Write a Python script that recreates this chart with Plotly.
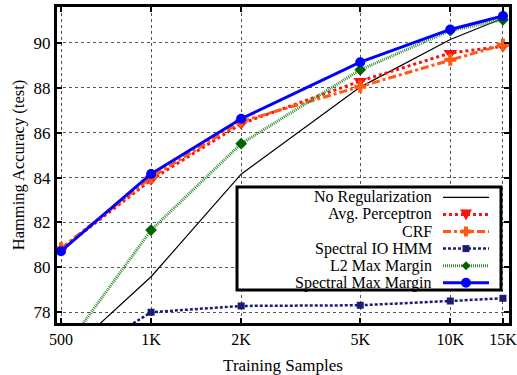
import plotly.graph_objects as go

samples = [500, 1000, 2000, 5000, 10000, 15000]
tick_labels = ["500", "1K", "2K", "5K", "10K", "15K"]
no_reg = [75.9, 79.58, 84.15, 88.03, 90.15, 91.1]
avg_perc = [80.8, 83.9, 86.4, 88.3, 89.55, 89.85]
crf = [80.85, 84.0, 86.5, 88.05, 89.25, 89.92]
io_hmm = [75.5, 78.0, 78.28, 78.31, 78.5, 78.62]
l2_mm = [76.15, 81.66, 85.51, 88.8, 90.55, 91.03]
spec_mm = [80.72, 84.16, 86.62, 89.14, 90.6, 91.2]

names = ["No Regularization", "Avg. Perceptron", "CRF", "Spectral IO HMM",
         "L2 Max Margin", "Spectral Max Margin"]
series = [no_reg, avg_perc, crf, io_hmm, l2_mm, spec_mm]
colors = ["#000000", "#ff1010", "#ff5a14", "#1c1c74", "#2f8f2f", "#0000ff"]
mcolors = ["#000000", "#ff1010", "#ff5a14", "#1c1c74", "#006400", "#0000ff"]
widths = [1.2, 3, 3, 2.5, 3, 3]
dashes = ["solid", "3px,3px", "8px,3px,3px,3px", "3px,2px", "1px,1px", "solid"]
symbols = [None, "triangle-down", "cross", "square", "diamond", "circle"]
msizes = [0, 12, 10, 7, 9, 10]

FONT = "Liberation Serif"
fig = go.Figure()
for n, s, c, mc, w, d, sym, ms in zip(names, series, colors, mcolors, widths, dashes, symbols, msizes):
    fig.add_trace(go.Scatter(
        x=samples, y=s, name=n, mode="lines" if sym is None else "lines+markers",
        line=dict(color=c, width=w, dash=d),
        marker=dict(symbol=sym or "circle", size=ms, color=mc, line=dict(width=0)),
        showlegend=False, cliponaxis=True))

# plot area geometry in px for the custom legend
L, R, T, B = 57, 509, 7, 323
PW, PH = R - L, B - T
def px(x): return (x - L) / PW
def py(y): return (B - y) / PH

shapes = []
# legend box
shapes.append(dict(type="rect", xref="paper", yref="paper", layer="above",
                   x0=px(237), x1=px(501), y0=py(290), y1=py(187),
                   line=dict(color="black", width=3), fillcolor="white"))
annotations = []
rows = [197.3, 214.4, 231.5, 248.6, 265.7, 282.8]
lx0, lx1, lxm = 443, 489, 466
for i, yrow in enumerate(rows):
    annotations.append(dict(xref="paper", yref="paper", x=px(433), y=py(yrow),
                            xanchor="right", yanchor="middle", showarrow=False, borderpad=0,
                            text=names[i], font=dict(family=FONT, size=16, color="black")))
    shapes.append(dict(type="line", xref="paper", yref="paper", layer="above",
                       x0=px(lx0), x1=px(lx1), y0=py(yrow), y1=py(yrow),
                       line=dict(color=colors[i], width=widths[i], dash=dashes[i])))
    sym = symbols[i]
    r = msizes[i] / 2
    cx, cy = lxm, yrow
    mc = mcolors[i]
    if sym == "circle":
        shapes.append(dict(type="circle", xref="paper", yref="paper", layer="above",
                           x0=px(cx - r), x1=px(cx + r), y0=py(cy + r), y1=py(cy - r),
                           fillcolor=mc, line=dict(width=0)))
    elif sym == "square":
        shapes.append(dict(type="rect", xref="paper", yref="paper", layer="above",
                           x0=px(cx - r), x1=px(cx + r), y0=py(cy + r), y1=py(cy - r),
                           fillcolor=mc, line=dict(width=0)))
    elif sym in ("triangle-down", "diamond", "cross"):
        if sym == "triangle-down":
            pts = [(cx - r, cy - r * 0.8), (cx + r, cy - r * 0.8), (cx, cy + r)]
        elif sym == "diamond":
            pts = [(cx, cy - r), (cx + r, cy), (cx, cy + r), (cx - r, cy)]
        else:
            a = r * 0.4
            pts = [(cx - a, cy - r), (cx + a, cy - r), (cx + a, cy - a), (cx + r, cy - a),
                   (cx + r, cy + a), (cx + a, cy + a), (cx + a, cy + r), (cx - a, cy + r),
                   (cx - a, cy + a), (cx - r, cy + a), (cx - r, cy - a), (cx - a, cy - a)]
        path = "M " + " L ".join(f"{px(x):.5f},{py(y):.5f}" for x, y in pts) + " Z"
        shapes.append(dict(type="path", xref="paper", yref="paper", layer="above",
                           path=path, fillcolor=mc, line=dict(width=0)))

fig.update_layout(
    width=517, height=375,
    margin=dict(l=L, r=517 - R, t=T, b=375 - B),
    paper_bgcolor="white", plot_bgcolor="white",
    font=dict(family=FONT, size=17, color="black"),
    shapes=shapes, annotations=annotations,
    xaxis=dict(type="log", range=[2.6856, 4.1962], tickvals=samples, ticktext=tick_labels,
               showline=True, linewidth=3, linecolor="black", mirror="allticks",
               ticks="inside", ticklen=5, tickwidth=2, tickcolor="black",
               showgrid=True, gridcolor="#555555", gridwidth=1, griddash="dot",
               zeroline=False, tickfont=dict(size=16), automargin=False,
               ticklabeloverflow="allow",
               title=dict(text="Training Samples", font=dict(size=17), standoff=12)),
    yaxis=dict(range=[77.52, 91.6], tickvals=[78, 80, 82, 84, 86, 88, 90],
               showline=True, linewidth=3, linecolor="black", mirror="allticks",
               ticks="inside", ticklen=5, tickwidth=2, tickcolor="black",
               showgrid=True, gridcolor="#555555", gridwidth=1, griddash="dot",
               zeroline=False, tickfont=dict(size=17), automargin=False,
               title=dict(text="Hamming Accuracy (test)", font=dict(size=16.5), standoff=5)),
)
fig.write_html("out.html", config={"displayModeBar": False},
               post_script="document.body.style.margin='0';document.body.style.overflow='hidden';")
